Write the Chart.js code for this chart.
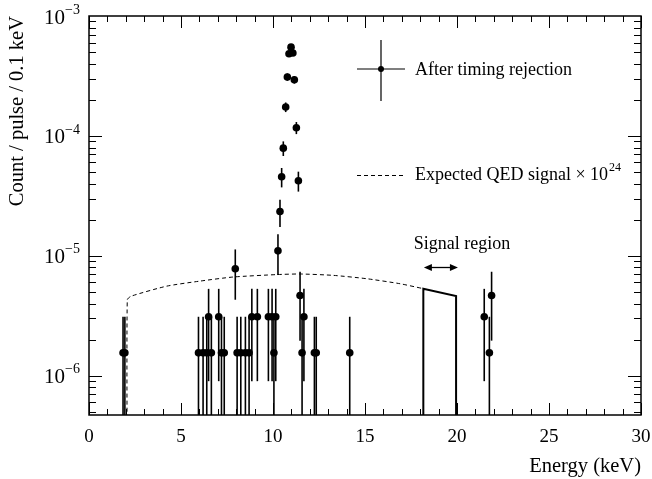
<!DOCTYPE html>
<html>
<head>
<meta charset="utf-8">
<script src="https://cdn.jsdelivr.net/npm/chart.js@4.4.1/dist/chart.umd.min.js"></script>
<style>
  html, body { margin: 0; padding: 0; background: #fff; }
  #wrap { width: 652px; height: 479px; position: relative; }
</style>
</head>
<body>
<div id="wrap"><canvas id="spectrum"></canvas></div>
<script>
// After timing rejection (bin centre in keV, rate and error)
const energy = [1.85, 1.95, 5.95, 6.2, 6.4, 6.5, 6.65, 7.05, 7.2, 7.35,
  7.95, 8.05, 8.25, 8.5, 8.7, 8.85, 9.15, 9.75, 9.95, 10.05,
  10.15, 10.27, 10.38, 10.47, 10.56, 10.69, 10.78, 10.87, 10.98, 11.08,
  11.16, 11.27, 11.38, 11.47, 11.58, 11.68, 12.25, 12.35, 14.17, 21.48,
  21.76, 21.88];
const rate = [1.55e-6, 1.55e-6, 1.55e-6, 1.55e-6, 1.55e-6, 3.1e-6, 1.55e-6, 3.1e-6, 1.55e-6, 1.55e-6,
  7.8e-6, 1.55e-6, 1.55e-6, 1.55e-6, 1.55e-6, 3.1e-6, 3.1e-6, 3.1e-6, 3.1e-6, 1.55e-6,
  3.1e-6, 1.1e-5, 2.34e-5, 4.56e-5, 7.9e-5, 1.74e-4, 3.1e-4, 4.85e-4, 5.5e-4, 4.92e-4,
  2.94e-4, 1.17e-4, 4.23e-5, 4.66e-6, 1.55e-6, 3.1e-6, 1.55e-6, 1.55e-6, 1.55e-6, 3.1e-6,
  1.55e-6, 4.66e-6];
const rateErr = [1.55e-6, 1.55e-6, 1.55e-6, 1.55e-6, 1.55e-6, 2.2e-6, 1.55e-6, 2.2e-6, 1.55e-6, 1.55e-6,
  3.5e-6, 1.55e-6, 1.55e-6, 1.55e-6, 1.55e-6, 2.2e-6, 2.2e-6, 2.2e-6, 2.2e-6, 1.55e-6,
  2.2e-6, 4.1e-6, 6e-6, 8.4e-6, 1.1e-5, 1.6e-5, 2.2e-5, 2.7e-5, 3e-5, 2.8e-5,
  2.1e-5, 1.35e-5, 8e-6, 2.7e-6, 1.55e-6, 2.2e-6, 1.55e-6, 1.55e-6, 1.55e-6, 2.2e-6,
  1.55e-6, 2.7e-6];

// Expected QED signal x 10^24 (dashed)
const qedEnergy = [2.08, 2.08, 2.3, 4.22, 6.03, 7.82, 10.2, 11.47, 13.26, 15.09, 16.9, 18.17];
const qedRate = [1e-7, 4.3e-6, 4.61e-6, 5.58e-6, 6.15e-6, 6.65e-6, 6.97e-6, 7.05e-6, 6.87e-6, 6.44e-6, 5.85e-6, 5.32e-6];

// Signal region outline (solid)
const regionEnergy = [18.17, 18.17, 19.95, 19.95];
const regionRate = [1e-7, 5.32e-6, 4.61e-6, 1e-7];

const xTickValues = [0, 5, 10, 15, 20, 25, 30];
const xTickLabels = ['0', '5', '10', '15', '20', '25', '30'];
const yDecades = [-6, -5, -4, -3];
const yTickLabels = ['\u22126', '\u22125', '\u22124', '\u22123'];

const serif = '"Liberation Serif", "DejaVu Serif", serif';

const errorBars = {
  id: 'errorBars',
  beforeDatasetsDraw(chart) {
    const { ctx, chartArea: a, scales: { x, y } } = chart;
    ctx.save();
    ctx.beginPath();
    ctx.rect(a.left, a.top, a.right - a.left, a.bottom - a.top);
    ctx.clip();
    ctx.strokeStyle = '#000';
    ctx.lineWidth = 1.6;
    energy.forEach((e, i) => {
      const px = x.getPixelForValue(e);
      const lo = Math.max(rate[i] - rateErr[i], y.min);
      const hi = rate[i] + rateErr[i];
      ctx.beginPath();
      ctx.moveTo(px, y.getPixelForValue(lo));
      ctx.lineTo(px, y.getPixelForValue(hi));
      ctx.stroke();
    });
    ctx.restore();
  }
};

function supText(ctx, base, sup, xRight, yMid, size, supSize) {
  ctx.font = supSize + 'px ' + serif;
  const sw = ctx.measureText(sup).width;
  ctx.font = size + 'px ' + serif;
  const bw = ctx.measureText(base).width;
  ctx.textAlign = 'left';
  ctx.textBaseline = 'middle';
  ctx.fillText(base, xRight - sw - bw, yMid);
  ctx.font = supSize + 'px ' + serif;
  ctx.fillText(sup, xRight - sw, yMid - 8);
}

const frame = {
  id: 'frame',
  afterDraw(chart) {
    const { ctx, chartArea: a, scales: { x, y } } = chart;
    ctx.save();
    ctx.strokeStyle = '#000';
    ctx.fillStyle = '#000';
    ctx.lineWidth = 1.5;
    ctx.strokeRect(a.left, a.top, a.right - a.left, a.bottom - a.top);

    // x ticks, bottom and top
    ctx.lineWidth = 1;
    for (let v = 0; v <= 30; v++) {
      const px = Math.round(x.getPixelForValue(v)) + 0.5;
      const len = v % 5 === 0 ? 12 : 6;
      ctx.beginPath();
      ctx.moveTo(px, a.bottom); ctx.lineTo(px, a.bottom - len);
      ctx.moveTo(px, a.top); ctx.lineTo(px, a.top + len);
      ctx.stroke();
    }
    // y log ticks, left and right
    for (let e = -7; e <= -4; e++) {
      for (let m = 1; m <= 9; m++) {
        const v = m * Math.pow(10, e);
        if (v < y.min || v > y.max * 1.0001) continue;
        const py = Math.round(y.getPixelForValue(v)) + 0.5;
        const len = m === 1 ? 13 : 7;
        ctx.beginPath();
        ctx.moveTo(a.left, py); ctx.lineTo(a.left + len, py);
        ctx.moveTo(a.right, py); ctx.lineTo(a.right - len, py);
        ctx.stroke();
      }
    }

    // x tick labels
    ctx.font = '19px ' + serif;
    ctx.textAlign = 'center';
    ctx.textBaseline = 'middle';
    xTickValues.forEach((v, i) => {
      ctx.fillText(xTickLabels[i], x.getPixelForValue(v), a.bottom + 22);
    });
    // y tick labels
    yDecades.forEach((d, i) => {
      supText(ctx, '10', yTickLabels[i], a.left - 9, y.getPixelForValue(Math.pow(10, d)) + 2, 21, 14);
    });

    // axis titles
    ctx.font = '20.5px ' + serif;
    ctx.textAlign = 'right';
    ctx.textBaseline = 'middle';
    ctx.fillText('Energy (keV)', a.right, a.bottom + 52);
    ctx.save();
    ctx.translate(18, a.top);
    ctx.rotate(-Math.PI / 2);
    ctx.fillText('Count / pulse / 0.1 keV', 0, 0);
    ctx.restore();

    // legend: data marker
    ctx.font = '18px ' + serif;
    ctx.lineWidth = 1.2;
    ctx.beginPath();
    ctx.moveTo(357, 69); ctx.lineTo(405, 69);
    ctx.moveTo(381, 40); ctx.lineTo(381, 101);
    ctx.stroke();
    ctx.beginPath();
    ctx.arc(381, 69, 3, 0, Math.PI * 2);
    ctx.fill();
    ctx.textAlign = 'left';
    ctx.fillText('After timing rejection', 415, 70);

    // legend: dashed QED
    ctx.lineWidth = 1;
    ctx.setLineDash([4, 3]);
    ctx.beginPath();
    ctx.moveTo(357, 175.5); ctx.lineTo(405, 175.5);
    ctx.stroke();
    ctx.setLineDash([]);
    const qedText = 'Expected QED signal \u00d7 10';
    ctx.fillText(qedText, 415, 175);
    const w = ctx.measureText(qedText).width;
    ctx.font = '12px ' + serif;
    ctx.fillText('24', 415 + w + 1, 168);

    // signal region label and arrow
    ctx.font = '18px ' + serif;
    ctx.textAlign = 'center';
    ctx.fillText('Signal region', 462, 244);
    const ax0 = x.getPixelForValue(18.2), ax1 = x.getPixelForValue(20.05), ay = 267.5;
    ctx.lineWidth = 1.3;
    ctx.beginPath();
    ctx.moveTo(ax0 + 4, ay); ctx.lineTo(ax1 - 4, ay);
    ctx.stroke();
    ctx.beginPath();
    ctx.moveTo(ax0, ay); ctx.lineTo(ax0 + 8, ay - 3.5); ctx.lineTo(ax0 + 8, ay + 3.5); ctx.closePath();
    ctx.moveTo(ax1, ay); ctx.lineTo(ax1 - 8, ay - 3.5); ctx.lineTo(ax1 - 8, ay + 3.5); ctx.closePath();
    ctx.fill();
    ctx.restore();
  }
};

new Chart(document.getElementById('spectrum'), {
  type: 'scatter',
  data: {
    datasets: [
      {
        label: 'After timing rejection',
        data: energy.map((e, i) => ({ x: e, y: rate[i] })),
        pointRadius: 3.8,
        pointBackgroundColor: '#000',
        pointBorderWidth: 0,
        showLine: false,
      },
      {
        label: 'Expected QED signal',
        data: qedEnergy.map((e, i) => ({ x: e, y: qedRate[i] })),
        showLine: true,
        borderColor: '#000',
        borderWidth: 1,
        borderDash: [4, 3],
        pointRadius: 0,
        tension: 0.2,
      },
      {
        label: 'Signal region',
        data: regionEnergy.map((e, i) => ({ x: e, y: regionRate[i] })),
        showLine: true,
        borderColor: '#000',
        borderWidth: 2,
        pointRadius: 0,
        tension: 0,
      },
    ],
  },
  options: {
    responsive: true,
    maintainAspectRatio: false,
    animation: false,
    layout: { padding: { left: 89, right: 11, top: 16, bottom: 64 } },
    plugins: {
      legend: { display: false },
      tooltip: { enabled: false },
    },
    scales: {
      x: { type: 'linear', min: 0, max: 30, display: false },
      y: { type: 'logarithmic', min: 4.7e-7, max: 1e-3, display: false },
    },
  },
  plugins: [errorBars, frame],
});
</script>
</body>
</html>
